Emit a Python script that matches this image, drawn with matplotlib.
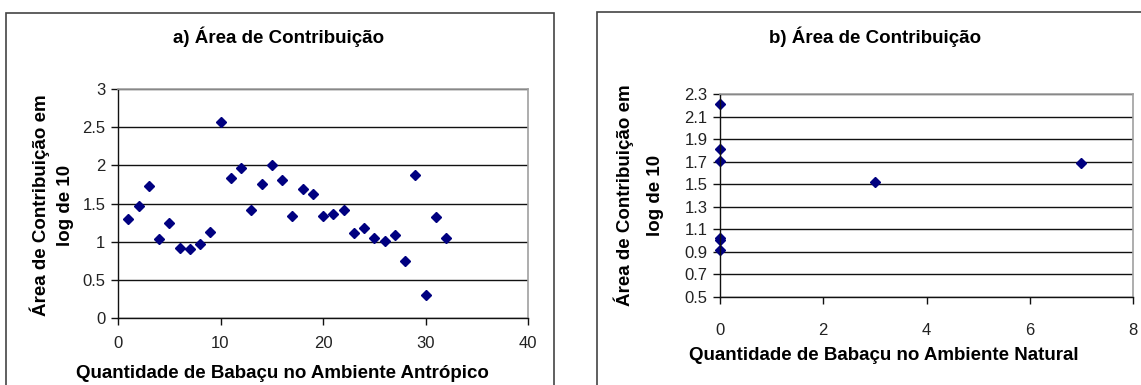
import matplotlib.pyplot as plt
from matplotlib.patches import Rectangle

# dados
qtd_antropico = list(range(1, 33))
area_antropico = [1.30, 1.47, 1.73, 1.03, 1.25, 0.92, 0.905, 0.975, 1.13, 2.57,
                  1.83, 1.97, 1.42, 1.76, 2.00, 1.81, 1.33, 1.69, 1.63, 1.33,
                  1.36, 1.42, 1.11, 1.18, 1.045, 1.01, 1.09, 0.75, 1.87, 0.30,
                  1.32, 1.045]

qtd_natural = [0, 0, 0, 0, 0, 0, 3, 7]
area_natural = [2.21, 1.815, 1.71, 1.023, 1.003, 0.92, 1.52, 1.688]

ticks_a_x = [0, 10, 20, 30, 40]
ticks_a_y = [0, 0.5, 1, 1.5, 2, 2.5, 3]
labels_a_y = ['0', '0.5', '1', '1.5', '2', '2.5', '3']
ticks_b_x = [0, 2, 4, 6, 8]
ticks_b_y = [0.5, 0.7, 0.9, 1.1, 1.3, 1.5, 1.7, 1.9, 2.1, 2.3]
labels_b_y = ['0.5', '0.7', '0.9', '1.1', '1.3', '1.5', '1.7', '1.9', '2.1', '2.3']

plt.rcParams['font.family'] = ['Liberation Sans', 'DejaVu Sans']

W, H = 1141, 385
fig = plt.figure(figsize=(W / 100, H / 100), dpi=100)
fs = 13.5  # titulos e rotulos

# molduras dos graficos (estilo Excel)
fig.patches.append(Rectangle((6 / W, -0.1), (554 - 6) / W, 1.1 - 13 / H,
                             transform=fig.transFigure, fill=False,
                             edgecolor='#444444', lw=1.2))
fig.patches.append(Rectangle((597 / W, -0.1), 0.5, 1.1 - 12 / H,
                             transform=fig.transFigure, fill=False,
                             edgecolor='#444444', lw=1.2))


def estilo(ax, xt, yt, ylab, pad_x):
    ax.set_xticks(xt)
    ax.set_xticklabels([str(v) for v in xt])
    ax.set_yticks(yt)
    ax.set_yticklabels(ylab)
    ax.grid(axis='y', color='#111111', lw=1.0)
    ax.set_axisbelow(True)
    for s in ['top', 'right']:
        ax.spines[s].set_color('#a0a0a0')
        ax.spines[s].set_linewidth(1.2)
    for s in ['left', 'bottom']:
        ax.spines[s].set_color('#111111')
        ax.spines[s].set_linewidth(1.0)
    ax.tick_params(axis='both', direction='out', length=5, width=1,
                   color='#111111', labelsize=12, labelcolor='#222222')
    ax.tick_params(axis='x', pad=pad_x)
    ax.tick_params(axis='y', pad=4)


# a) ambiente antropico
ax1 = fig.add_axes([118 / W, 1 - 318 / H, 410 / W, 229 / H])
ax1.plot(qtd_antropico, area_antropico, 'D', color='#000080', ms=5.5,
         mec='#000080', clip_on=False)
ax1.set_xlim(0, 40)
ax1.set_ylim(0, 3)
estilo(ax1, ticks_a_x, ticks_a_y, labels_a_y, 8)

fig.text(279 / W, 1 - 37 / H, 'a) Área de Contribuição', ha='center',
         va='center', fontsize=fs, fontweight='bold')
fig.text(282 / W, 1 - 373 / H, 'Quantidade de Babaçu no Ambiente Antrópico',
         ha='center', va='center', fontsize=fs, fontweight='bold')
fig.text(40 / W, 1 - 205 / H, 'Área de Contribuição em', rotation=90,
         ha='center', va='center', fontsize=fs, fontweight='bold')
fig.text(65 / W, 1 - 205 / H, 'log de 10', rotation=90,
         ha='center', va='center', fontsize=fs, fontweight='bold')

# b) ambiente natural
ax2 = fig.add_axes([720 / W, 1 - 297 / H, 413 / W, 203 / H])
ax2.plot(qtd_natural, area_natural, 'D', color='#000080', ms=5.5,
         mec='#000080', clip_on=False)
ax2.set_xlim(0, 8)
ax2.set_ylim(0.5, 2.3)
estilo(ax2, ticks_b_x, ticks_b_y, labels_b_y, 14)

fig.text(875 / W, 1 - 37 / H, 'b) Área de Contribuição', ha='center',
         va='center', fontsize=fs, fontweight='bold')
fig.text(884 / W, 1 - 356 / H, 'Quantidade de Babaçu no Ambiente Natural',
         ha='center', va='center', fontsize=fs, fontweight='bold')
fig.text(624 / W, 1 - 195 / H, 'Área de Contribuição em', rotation=90,
         ha='center', va='center', fontsize=fs, fontweight='bold')
fig.text(655 / W, 1 - 195 / H, 'log de 10', rotation=90,
         ha='center', va='center', fontsize=fs, fontweight='bold')

fig.savefig('out.png', dpi=100)
